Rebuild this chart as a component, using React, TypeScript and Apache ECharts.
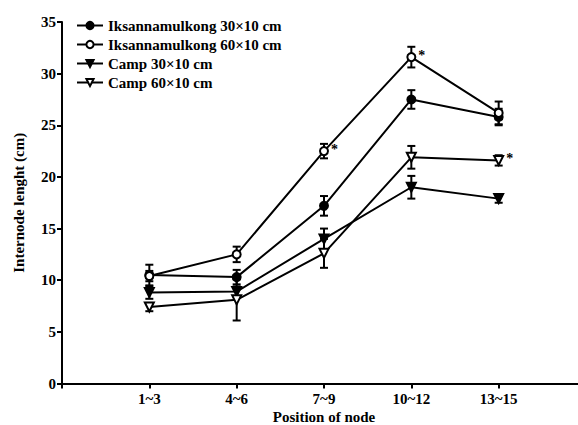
import React, { useEffect, useRef } from 'react';
import * as echarts from 'echarts';

const categories = ['1~3', '4~6', '7~9', '10~12', '13~15'];
const seriesNames = ['Iksannamulkong 30×10 cm', 'Iksannamulkong 60×10 cm', 'Camp 30×10 cm', 'Camp 60×10 cm'];
const ik30 = [10.5, 10.3, 17.2, 27.5, 25.8];
const ik30Err = [1.0, 0.7, 0.95, 0.9, 0.8];
const ik60 = [10.4, 12.5, 22.5, 31.6, 26.2];
const ik60Err = [0.5, 0.75, 0.7, 1.0, 1.1];
const camp30 = [8.8, 8.9, 14.0, 19.0, 17.9];
const camp30Err = [0.6, 0.5, 1.0, 1.1, 0.4];
const camp60 = [7.4, 8.1, 12.6, 21.9, 21.6];
const camp60Err = [0.4, 2.0, 1.4, 1.1, 0.5];
// indices of points marked with an asterisk (significant difference)
const ik60Star = [2, 3];
const camp60Star = [4];
const yTicks = [0, 5, 10, 15, 20, 25, 30, 35];

const FONT = 'serif';

export default function App() {
  const ref = useRef<HTMLDivElement>(null);
  useEffect(() => {
    document.body.style.margin = '0';
    const chart = echarts.init(ref.current!, null, { renderer: 'svg' });

    const values = [ik30, ik60, camp30, camp60];
    const errs = [ik30Err, ik60Err, camp30Err, camp60Err];
    const stars = [[], ik60Star, [], camp60Star];
    const symbols = ['circle', 'circle', 'triangle', 'triangle'];
    const filled = [true, false, true, false];
    const sizes = [8, 8, 9, 9];

    const lineSeries = values.map((vals, si) => ({
      name: seriesNames[si],
      type: 'line',
      z: 3,
      symbol: symbols[si],
      symbolSize: sizes[si],
      symbolRotate: symbols[si] === 'triangle' ? 180 : 0,
      showAllSymbol: true,
      lineStyle: { color: '#000', width: 2 },
      itemStyle: {
        color: filled[si] ? '#000' : '#fff',
        borderColor: '#000',
        borderWidth: 2,
      },
      data: vals.map((v, i) => {
        const d: any = { value: [i + 1, v] };
        if ((stars[si] as number[]).includes(i)) {
          d.label = {
            show: true,
            formatter: '*',
            position: 'right',
            distance: 2,
            offset: [0, -2],
            fontFamily: FONT,
            fontSize: 14,
            fontWeight: 'bold',
            color: '#000',
          };
        }
        return d;
      }),
    }));

    const errSeries = values.map((vals, si) => ({
      name: seriesNames[si] + ' err',
      type: 'custom',
      z: 1,
      encode: { x: 0, y: [1, 2] },
      data: vals.map((v, i) => [i + 1, v - errs[si][i], v + errs[si][i]]),
      renderItem: (params: any, api: any) => {
        const x = api.value(0);
        const lo = api.coord([x, api.value(1)]);
        const hi = api.coord([x, api.value(2)]);
        const w = 4;
        const st = { stroke: '#000', lineWidth: 2 };
        return {
          type: 'group',
          children: [
            { type: 'line', shape: { x1: lo[0], y1: lo[1], x2: hi[0], y2: hi[1] }, style: st },
            { type: 'line', shape: { x1: lo[0] - w, y1: lo[1], x2: lo[0] + w, y2: lo[1] }, style: st },
            { type: 'line', shape: { x1: hi[0] - w, y1: hi[1], x2: hi[0] + w, y2: hi[1] }, style: st },
          ],
        };
      },
    }));

    chart.setOption({
      animation: false,
      backgroundColor: '#fff',
      grid: { left: 62, right: -8, top: 22, bottom: 41.5, outerBoundsMode: 'none', containLabel: false },
      legend: {
        data: seriesNames,
        orient: 'vertical',
        left: 71,
        top: 13,
        itemWidth: 26,
        itemHeight: 9,
        itemGap: 4,
        textStyle: { fontFamily: FONT, fontSize: 15, fontWeight: 'bold', color: '#000' },
      },
      xAxis: {
        type: 'value',
        min: 0,
        max: 6,
        interval: 1,
        splitLine: { show: false },
        axisLine: { lineStyle: { color: '#000', width: 2 } },
        axisTick: { length: 5, lineStyle: { color: '#000', width: 2 } },
        axisLabel: {
          formatter: (v: number) => categories[v - 1] ?? '',
          fontFamily: FONT,
          fontSize: 15,
          fontWeight: 'bold',
          color: '#000',
          margin: 8,
        },
        name: 'Position of node',
        nameLocation: 'middle',
        nameGap: 26,
        nameMoveOverlap: false,
        nameTextStyle: { fontFamily: FONT, fontSize: 15, fontWeight: 'bold', color: '#000' },
      },
      yAxis: {
        type: 'value',
        min: 0,
        max: 35,
        interval: 5,
        splitLine: { show: false },
        axisLine: { show: true, lineStyle: { color: '#000', width: 2 } },
        axisTick: { show: true, length: 5, lineStyle: { color: '#000', width: 2 } },
        axisLabel: {
          formatter: (v: number) => (yTicks.includes(v) ? String(v) : ''),
          fontFamily: FONT,
          fontSize: 15,
          fontWeight: 'bold',
          color: '#000',
          margin: 6,
        },
        name: 'Internode lenght (cm)',
        nameLocation: 'middle',
        nameGap: 36,
        nameMoveOverlap: false,
        nameTextStyle: { fontFamily: FONT, fontSize: 15, fontWeight: 'bold', color: '#000' },
      },
      series: [...errSeries, ...lineSeries],
    });
    return () => chart.dispose();
  }, []);
  return <div ref={ref} style={{ width: 578, height: 425 }} />;
}
